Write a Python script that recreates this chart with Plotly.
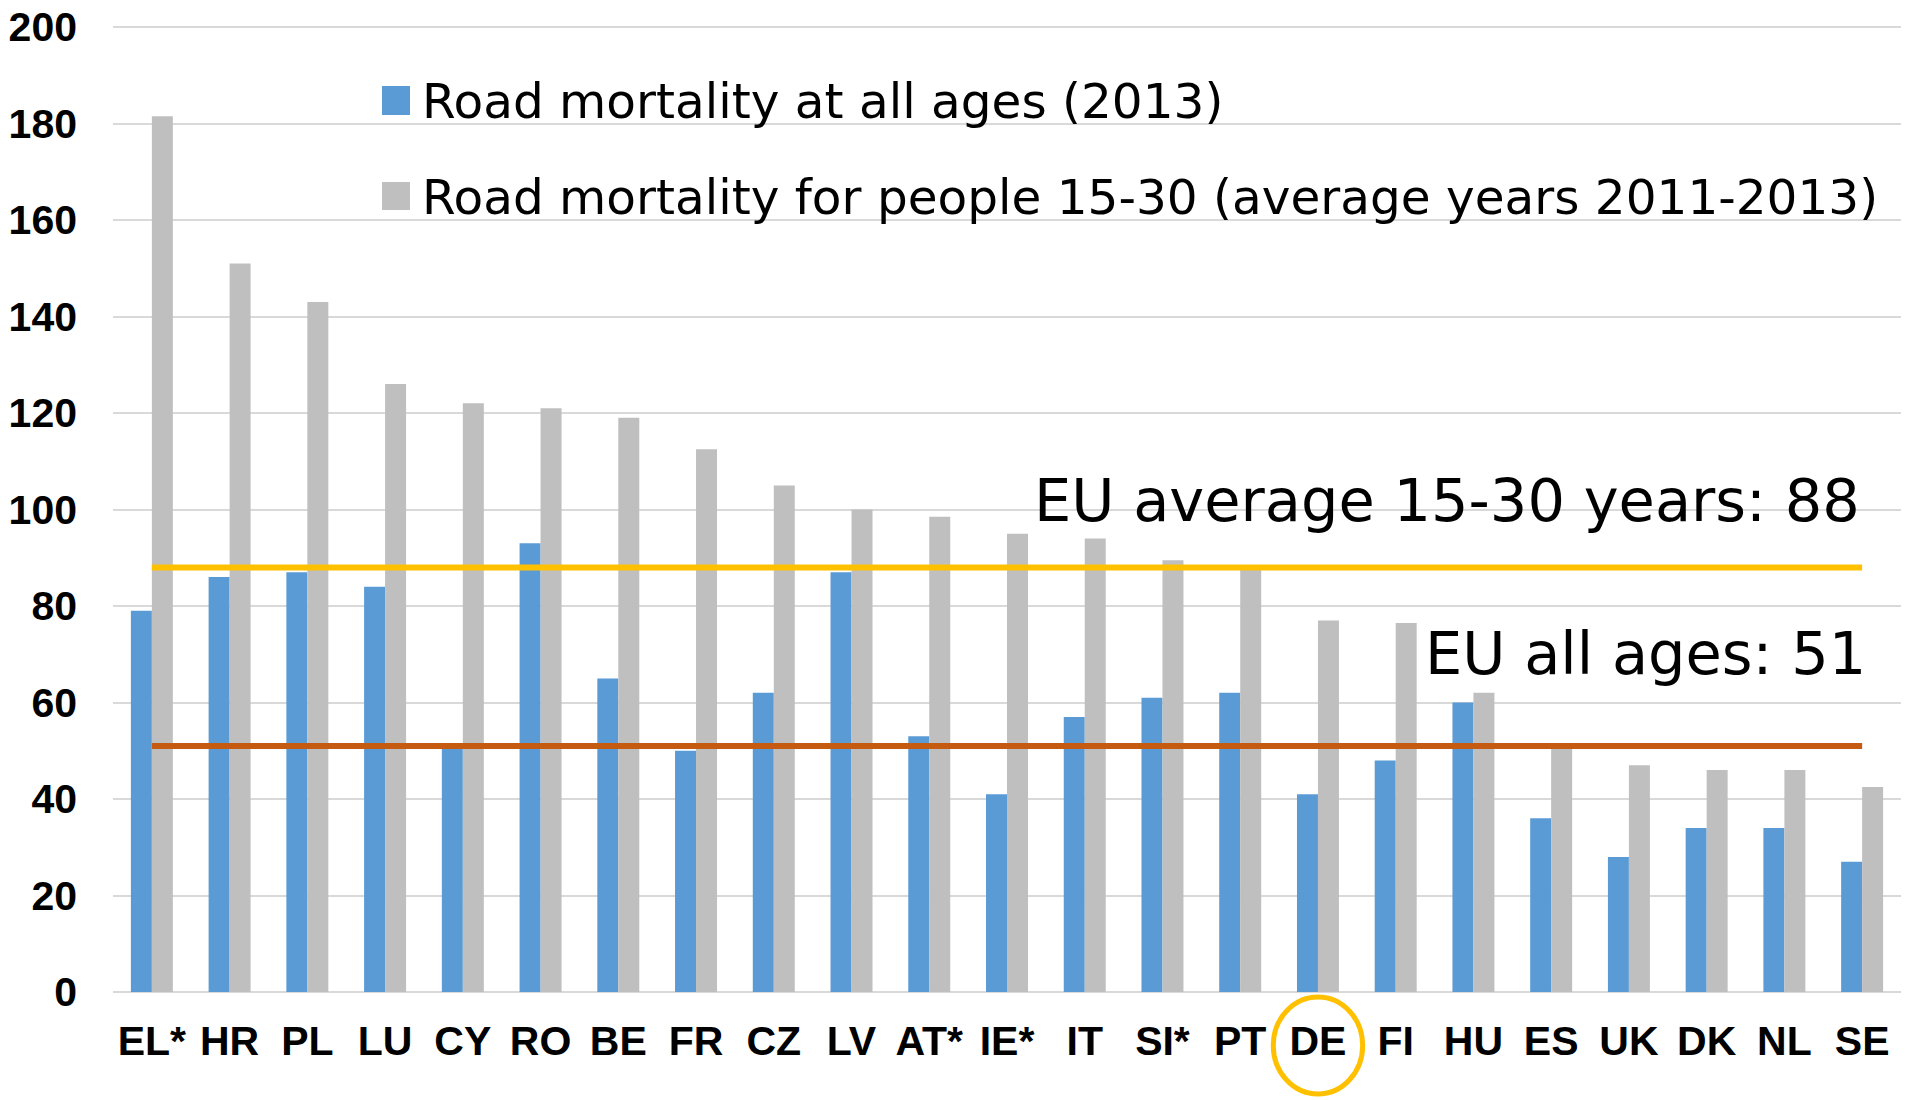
import plotly.graph_objects as go

countries = ["EL*", "HR", "PL", "LU", "CY", "RO", "BE", "FR", "CZ", "LV", "AT*", "IE*",
             "IT", "SI*", "PT", "DE", "FI", "HU", "ES", "UK", "DK", "NL", "SE"]
all_ages_2013 = [79, 86, 87, 84, 51, 93, 65, 50, 62, 87, 53, 41,
                 57, 61, 62, 41, 48, 60, 36, 28, 34, 34, 27]
people_15_30 = [181.5, 151, 143, 126, 122, 121, 119, 112.5, 105, 100, 98.5, 95,
                94, 89.5, 88, 77, 76.5, 62, 50.5, 47, 46, 46, 42.5]
eu_avg_15_30 = 88
eu_all_ages = 51
highlight = "DE"
y_ticks = [0, 20, 40, 60, 80, 100, 120, 140, 160, 180, 200]

name_all = "Road mortality at all ages (2013)"
name_young = "Road mortality for people 15-30 (average years 2011-2013)"

BLUE = "#5B9BD5"
GRAY = "#BFBFBF"
YELLOW = "#FFC000"
ORANGE = "#C55A11"
GRID = "#D9D9D9"

fig = go.Figure()
fig.add_trace(go.Bar(x=countries, y=all_ages_2013, name=name_all,
                     marker=dict(color=BLUE, line=dict(width=0))))
fig.add_trace(go.Bar(x=countries, y=people_15_30, name=name_young,
                     marker=dict(color=GRAY, line=dict(width=0))))
fig.add_trace(go.Scatter(x=countries, y=[eu_avg_15_30] * len(countries), mode="lines",
                         line=dict(color=YELLOW, width=6), showlegend=False, hoverinfo="skip"))
fig.add_trace(go.Scatter(x=countries, y=[eu_all_ages] * len(countries), mode="lines",
                         line=dict(color=ORANGE, width=6), showlegend=False, hoverinfo="skip"))

L, R, T, B = 113, 4, 25, 108
W, H = 1905, 1100
pw = W - L - R
ph = H - T - B
y_top = 200 * ph / (H - B - 27)   # so that the 200 gridline sits at y=27 px


def px_x(x):
    return (x - L) / pw


def px_y(y):
    return (H - B - y) / ph


shapes = []
# legend squares
shapes.append(dict(type="rect", xref="paper", yref="paper",
                   x0=px_x(382), x1=px_x(410), y0=px_y(115), y1=px_y(86),
                   fillcolor=BLUE, line=dict(width=0)))
shapes.append(dict(type="rect", xref="paper", yref="paper",
                   x0=px_x(382), x1=px_x(410), y0=px_y(210), y1=px_y(182),
                   fillcolor=GRAY, line=dict(width=0)))
# highlight ellipse around DE label
hi = countries.index(highlight)
shapes.append(dict(type="circle", xref="x", yref="paper",
                   x0=hi - 0.575, x1=hi + 0.575, y0=px_y(1094), y1=px_y(997),
                   line=dict(color=YELLOW, width=5), fillcolor="rgba(0,0,0,0)"))

LEG_FONT = dict(family="DejaVu Sans", size=48.5, color="black")
ANN_FONT = dict(family="DejaVu Sans", size=59, color="black")
annotations = [
    dict(text=name_all, xref="paper", yref="paper", x=px_x(420), y=px_y(101),
         xanchor="left", yanchor="middle", showarrow=False, font=LEG_FONT),
    dict(text=name_young, xref="paper", yref="paper", x=px_x(420), y=px_y(197),
         xanchor="left", yanchor="middle", showarrow=False, font=LEG_FONT),
    dict(text=f"EU average 15-30 years: {eu_avg_15_30}", xref="paper", yref="paper",
         x=px_x(1862), y=px_y(500), xanchor="right", yanchor="middle",
         showarrow=False, font=ANN_FONT),
    dict(text=f"EU all ages: {eu_all_ages}", xref="paper", yref="paper",
         x=px_x(1868), y=px_y(653), xanchor="right", yanchor="middle",
         showarrow=False, font=ANN_FONT),
]

fig.update_layout(
    width=W, height=H,
    margin=dict(l=L, r=R, t=T, b=B, pad=0),
    paper_bgcolor="white", plot_bgcolor="white",
    barmode="group", bargap=0.46, bargroupgap=0,
    showlegend=False,
    shapes=shapes,
    annotations=annotations,
    font=dict(family="Liberation Sans", color="black"),
    xaxis=dict(type="category", showgrid=False, showline=False, ticks="",
               tickfont=dict(family="Liberation Sans", size=41, color="black", weight="bold"),
               ticklabelstandoff=21, zeroline=False, fixedrange=True),
    yaxis=dict(range=[0, y_top], tickvals=y_ticks, showgrid=True, gridcolor=GRID, gridwidth=2,
               zeroline=True, zerolinecolor=GRID, zerolinewidth=2, showline=False, ticks="",
               tickfont=dict(family="Liberation Sans", size=41, color="black", weight="bold"),
               ticklabelstandoff=35, fixedrange=True),
)

fig.write_html("out.html", config={"displayModeBar": False},
               post_script="document.body.style.margin='0';document.body.style.overflow='hidden';")
